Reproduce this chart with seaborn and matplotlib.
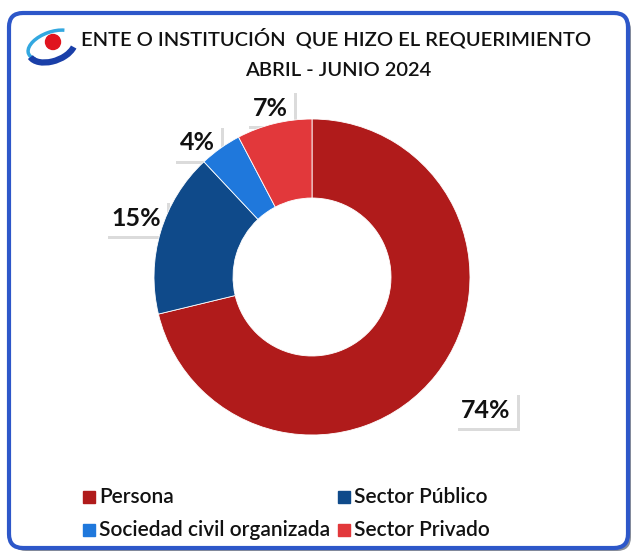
import matplotlib
matplotlib.use('Agg')
import matplotlib.pyplot as plt
import matplotlib.patheffects as pe
from matplotlib.patches import FancyBboxPatch, Circle, Arc, Rectangle
import seaborn as sns

categorias = ['Persona', 'Sector Público', 'Sociedad civil organizada', 'Sector Privado']
valores = [71.3, 16.8, 4.3, 7.7]
etiquetas = ['74%', '15%', '4%', '7%']
colores = ['#b01b1b', '#0f4a8a', '#1f78dc', '#e2383b']

sns.set_theme(style='white')
plt.rcParams['font.family'] = ['Lato', 'DejaVu Sans']

fig = plt.figure(figsize=(6.35, 5.57), dpi=100)
bg = fig.add_axes([0, 0, 1, 1])
bg.set_xlim(0, 635)
bg.set_ylim(557, 0)
bg.axis('off')

# marco con sombra
sombra = FancyBboxPatch((12, 16), 619, 535, boxstyle='round,pad=0,rounding_size=14',
                        fc='#8a8f99', ec='none')
bg.add_patch(sombra)
marco = FancyBboxPatch((9, 13), 619, 535, boxstyle='round,pad=0,rounding_size=14',
                       fc='white', ec='#2d57c9', lw=3)
bg.add_patch(marco)

# logo
bg.add_patch(Arc((52, 45), 50, 26, angle=-20, theta1=160, theta2=330, color='#33a8e0', lw=2.5))
bg.add_patch(Arc((52, 47), 48, 28, angle=-20, theta1=20, theta2=175, color='#1a3fa8', lw=4.5))
bg.add_patch(Circle((53, 42), 7.5, color='#e0141e'))

# titulo
bg.text(336, 38, 'ENTE O INSTITUCIÓN  QUE HIZO EL REQUERIMIENTO', ha='center', va='center',
        fontsize=14.5, fontweight='semibold', color='#111111')
bg.text(338, 70, 'ABRIL - JUNIO 2024', ha='center', va='center',
        fontsize=14.5, fontweight='semibold', color='#111111')

# dona
ax = fig.add_axes([(312 - 170) / 635, (557 - 277 - 170) / 557, 340 / 635, 340 / 557])
r = 158 / 170
wedges, _ = ax.pie(valores, colors=colores, startangle=90, counterclock=False, radius=r,
                   wedgeprops=dict(width=r * 0.5, edgecolor='white', linewidth=0.6))
ax.set_xlim(-1, 1)
ax.set_ylim(-1, 1)
ax.axis('off')

# etiquetas de porcentaje
pos_etq = [(486, 410), (136, 218), (197, 143), (270, 108)]
for (x, y), t in zip(pos_etq, etiquetas):
    txt = bg.text(x, y, t, ha='center', va='center', fontsize=18, fontweight='bold',
                  color='#111111',
                  bbox=dict(boxstyle='square,pad=0.25', fc='white', ec='none'))
    txt.get_bbox_patch().set_path_effects(
        [pe.withSimplePatchShadow(offset=(2, -2), shadow_rgbFace='#999999', alpha=0.35),
         pe.Normal()])

# leyenda (dos columnas, 2 filas)
pos_ley = [(83, 497), (338, 497), (83, 530), (338, 530)]
for (x, y), cat, col in zip(pos_ley, categorias, colores):
    bg.add_patch(Rectangle((x, y - 6), 12, 12, color=col))
    bg.text(x + 16, y, cat, ha='left', va='center', fontsize=15, fontweight='semibold',
            color='#111111')

fig.savefig('out.png', dpi=100)
